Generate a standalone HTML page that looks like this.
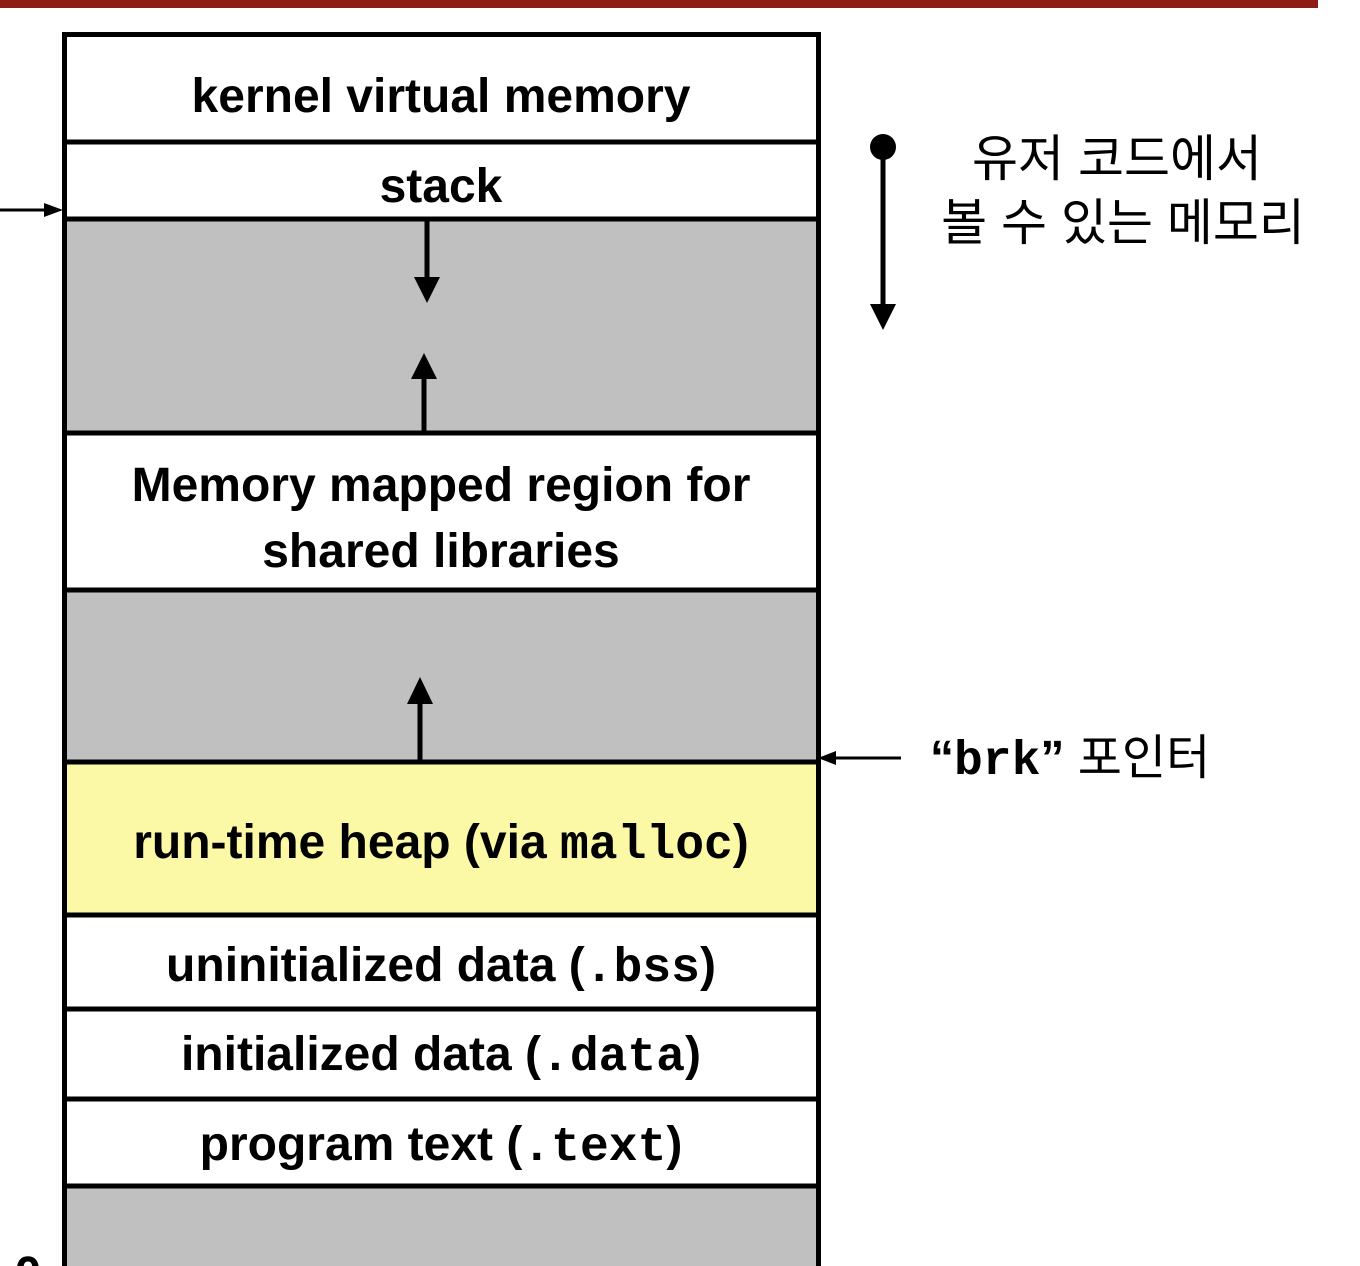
<!DOCTYPE html>
<html><head><meta charset="utf-8"><style>
html,body{margin:0;padding:0;background:#fff;}
svg{display:block;}
.t{font-family:"Liberation Sans",sans-serif;font-weight:bold;font-size:48px;fill:#000;}
.m{font-family:"Liberation Mono",monospace;font-weight:bold;}
.k{font-family:"Liberation Sans","Noto Sans CJK KR",sans-serif;font-size:50px;fill:#000;}
</style></head><body>
<svg width="1360" height="1266" viewBox="0 0 1360 1266" xmlns="http://www.w3.org/2000/svg">
<rect x="0" y="0" width="1318" height="8" fill="#8e1b14"/>
<!-- fills -->
<rect x="65" y="35" width="753" height="1240" fill="#fff"/>
<rect x="65" y="219" width="753" height="214" fill="#c0c0c0"/>
<rect x="65" y="590" width="753" height="172" fill="#c0c0c0"/>
<rect x="65" y="762" width="753" height="153" fill="#fbf9a6"/>
<rect x="65" y="1186" width="753" height="90" fill="#c0c0c0"/>
<g stroke="#000" stroke-width="5">
<line x1="64.5" y1="34.5" x2="818.5" y2="34.5"/>
<line x1="64.5" y1="32" x2="64.5" y2="1266"/>
<line x1="818.5" y1="32" x2="818.5" y2="1266"/>
<line x1="64" y1="142" x2="819" y2="142"/>
<line x1="64" y1="219" x2="819" y2="219"/>
<line x1="64" y1="433" x2="819" y2="433"/>
<line x1="64" y1="590" x2="819" y2="590"/>
<line x1="64" y1="762" x2="819" y2="762"/>
<line x1="64" y1="915" x2="819" y2="915"/>
<line x1="64" y1="1009" x2="819" y2="1009"/>
<line x1="64" y1="1099" x2="819" y2="1099"/>
<line x1="64" y1="1186" x2="819" y2="1186"/>
<line x1="427" y1="221" x2="427" y2="280"/>
<line x1="424" y1="433" x2="424" y2="375"/>
<line x1="420" y1="762" x2="420" y2="700"/>
<line x1="883" y1="148" x2="883" y2="308"/>
</g>
<g stroke="#000" stroke-width="3">
<line x1="0" y1="210" x2="48" y2="210"/>
<line x1="832" y1="758" x2="901" y2="758"/>
</g>
<polygon points="414,277 440,277 427,303" fill="#000"/>
<polygon points="411,379 437,379 424,353" fill="#000"/>
<polygon points="407,704 433,704 420,677" fill="#000"/>
<polygon points="870,304 896,304 883,330" fill="#000"/>
<polygon points="44,203 44,217 63,210" fill="#000"/>
<polygon points="836,751 836,765 818,758" fill="#000"/>
<circle cx="883" cy="147" r="13" fill="#000"/>
<text class="t" x="441" y="112" text-anchor="middle">kernel virtual memory</text>
<text class="t" x="441" y="202" text-anchor="middle">stack</text>
<text class="t" x="441" y="501" text-anchor="middle">Memory mapped region for</text>
<text class="t" x="441" y="567" text-anchor="middle">shared libraries</text>
<text class="t" x="441" y="858" text-anchor="middle">run-time heap (via <tspan class="m">malloc</tspan>)</text>
<text class="t" x="441" y="981" text-anchor="middle">uninitialized data (<tspan class="m">.bss</tspan>)</text>
<text class="t" x="441" y="1070" text-anchor="middle">initialized data (<tspan class="m">.data</tspan>)</text>
<text class="t" x="441" y="1160" text-anchor="middle">program text (<tspan class="m">.text</tspan>)</text>
<text class="t" x="28" y="1290" text-anchor="middle">0</text>
<text class="k" x="1117" y="176" text-anchor="middle">유저 코드에서</text>
<text class="k" x="1123" y="240" text-anchor="middle">볼 수 있는 메모리</text>
<text class="t" x="930" y="774">“<tspan class="m">brk</tspan>” <tspan style="font-weight:normal;font-family:'Liberation Sans','Noto Sans CJK KR',sans-serif">포인터</tspan></text>
</svg>
</body></html>
